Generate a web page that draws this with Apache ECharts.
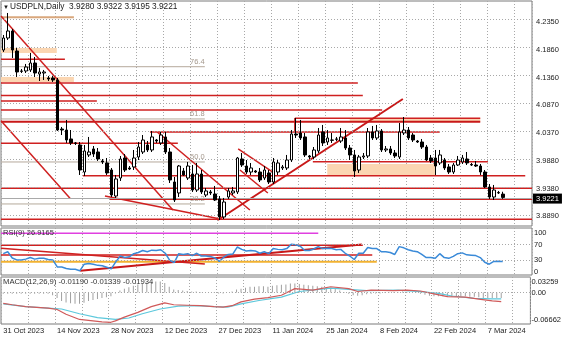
<!DOCTYPE html>
<html><head><meta charset="utf-8">
<script src="https://cdn.jsdelivr.net/npm/echarts@6/dist/echarts.min.js"></script>
<style>html,body{margin:0;padding:0;background:#fff}#c{width:564px;height:338px}</style>
</head><body><div id="c"></div>
<script>
// ---------- data ----------
const tickDates = ['31 Oct 2023','14 Nov 2023','28 Nov 2023','12 Dec 2023','27 Dec 2023','11 Jan 2024','25 Jan 2024','8 Feb 2024','22 Feb 2024','7 Mar 2024'];
const barsPerTick = 12;
const slotCount = 118;
const priceTicks = [4.2350,4.1860,4.1360,4.0870,4.0370,3.9880,3.9380,3.8890];
const rsiTicks = [100,70,30,0];
const rsiLevels = [70,30];
const macdTicks = [0.03259,0,-0.06662];
const lastPrice = 3.9221;
// [open, close, low, high]
const candles = [
[4.1850,4.2064,4.1815,4.2118],[4.2064,4.2189,4.2029,4.2510],[4.2189,4.1850,4.1708,4.2225],[4.1832,4.1458,4.1369,4.1886],
[4.1476,4.1470,4.1440,4.1511],[4.1476,4.1547,4.1440,4.1601],[4.1494,4.1618,4.1458,4.1797],[4.1618,4.1440,4.1369,4.1725],
[4.1422,4.1458,4.1297,4.1529],[4.1440,4.1458,4.1315,4.1494],[4.1351,4.1333,4.1297,4.1387],[4.1351,4.1315,4.1280,4.1387],
[4.1315,4.0423,4.0406,4.1351],[4.0441,4.0423,4.0334,4.0477],[4.0423,4.0245,4.0192,4.0602],[4.0263,4.0192,4.0156,4.0423],
[4.0192,4.0186,4.0156,4.0209],[4.0156,3.9710,3.9621,4.0209],[3.9674,4.0049,3.9603,4.0156],[3.9978,4.0031,3.9942,4.0299],
[4.0085,3.9995,3.9942,4.0138],[4.0031,3.9906,3.9871,4.0102],[3.9871,3.9853,3.9817,3.9906],[3.9835,3.9657,3.9621,3.9924],
[3.9710,3.9264,3.9228,3.9746],[3.9246,3.9550,3.9211,3.9621],[3.9567,3.9906,3.9514,3.9960],[3.9924,3.9710,3.9674,3.9995],
[3.9746,3.9728,3.9710,3.9781],[3.9764,3.9924,3.9710,4.0067],[3.9942,4.0120,3.9888,4.0209],[4.0031,4.0245,3.9995,4.0334],
[4.0156,4.0067,4.0031,4.0227],[4.0067,4.0299,4.0031,4.0406],[4.0245,4.0227,4.0192,4.0263],[4.0192,4.0334,4.0156,4.0388],
[4.0299,4.0031,3.9995,4.0388],[4.0031,3.9532,3.9478,4.0102],[3.9496,3.9175,3.9139,3.9585],[3.9300,3.9781,3.9228,3.9799],
[3.9692,3.9621,3.9603,3.9746],[3.9567,3.9781,3.9532,3.9853],[3.9639,3.9353,3.9318,3.9799],[3.9353,3.9639,3.9318,3.9835],
[3.9639,3.9318,3.9282,3.9710],[3.9264,3.9336,3.9228,3.9389],[3.9318,3.9300,3.9264,3.9353],[3.9282,3.9175,3.9157,3.9425],
[3.9193,3.8872,3.8818,3.9246],[3.8872,3.9139,3.8836,3.9211],[3.9228,3.9336,3.9193,3.9389],[3.9300,3.9336,3.9264,3.9407],
[3.9318,3.9924,3.9282,3.9942],[3.9906,3.9799,3.9764,4.0013],[3.9781,3.9674,3.9639,3.9888],[3.9674,3.9746,3.9621,3.9835],
[3.9692,3.9674,3.9657,3.9710],[3.9674,3.9532,3.9496,3.9746],[3.9567,3.9710,3.9532,3.9781],[3.9657,3.9496,3.9460,3.9710],
[3.9496,3.9853,3.9460,3.9924],[3.9674,3.9835,3.9621,3.9888],[3.9746,3.9764,3.9710,3.9799],[3.9746,3.9888,3.9710,3.9978],
[3.9888,4.0352,3.9853,4.0423],[4.0352,4.0334,4.0281,4.0637],[4.0370,4.0281,4.0245,4.0602],[4.0299,3.9978,3.9942,4.0370],
[3.9960,3.9942,3.9906,3.9978],[3.9942,4.0067,3.9906,4.0120],[4.0049,4.0334,4.0013,4.0459],[4.0388,4.0192,4.0138,4.0513],
[4.0209,4.0281,4.0156,4.0423],[4.0245,4.0240,4.0192,4.0370],[4.0263,4.0258,4.0227,4.0299],[4.0227,4.0299,4.0192,4.0459],
[4.0281,4.0102,4.0067,4.0423],[4.0102,3.9978,3.9888,4.0156],[3.9978,3.9692,3.9585,4.0067],[3.9710,3.9942,3.9657,3.9978],
[3.9942,3.9960,3.9906,4.0013],[3.9960,4.0388,3.9924,4.0459],[4.0388,4.0281,4.0245,4.0495],[4.0281,4.0406,4.0245,4.0513],
[4.0406,4.0067,4.0031,4.0441],[4.0067,4.0085,4.0031,4.0138],[4.0085,4.0013,3.9978,4.0138],[4.0013,3.9960,3.9924,4.0067],
[3.9942,4.0388,3.9906,4.0548],[4.0370,4.0423,4.0334,4.0655],[4.0423,4.0281,4.0245,4.0477],[4.0334,4.0245,4.0209,4.0370],
[4.0227,4.0209,4.0192,4.0245],[4.0209,4.0120,4.0085,4.0263],[4.0120,3.9888,3.9871,4.0156],[3.9924,3.9871,3.9835,3.9978],
[3.9924,3.9781,3.9621,4.0067],[3.9835,3.9978,3.9799,4.0067],[3.9888,3.9746,3.9710,3.9924],[3.9764,3.9674,3.9639,3.9817],
[3.9674,3.9799,3.9639,3.9835],[3.9799,3.9888,3.9781,3.9960],[3.9853,3.9924,3.9817,3.9978],[3.9906,3.9835,3.9799,4.0031],
[3.9808,3.9799,3.9781,3.9835],[3.9799,3.9781,3.9764,3.9871],[3.9781,3.9674,3.9621,3.9817],[3.9674,3.9407,3.9389,3.9710],
[3.9407,3.9228,3.9193,3.9460],[3.9228,3.9353,3.9175,3.9443],[3.9300,3.9309,3.9282,3.9336],[3.9280,3.9221,3.9195,3.9322]
];
const rsi = [[0,47],[1,52],[2,36],[3,31],[4,31],[5,33],[6,37],[7,33],[8,35],[9,35],[10,32],[11,31],[12,13],[13,13],[14,9],[15,7],[16,7],[17,3],[18,20],[19,22],[20,20],[21,17],[22,16],[23,12],[24,8],[25,26],[26,41],[27,37],[28,39],[29,47],[30,50],[31,55],[32,52],[33,56],[34,55],[35,57],[36,48],[37,30],[38,24],[39,47],[40,45],[41,47],[42,42],[43,48],[44,41],[45,41],[46,40],[47,36],[48,27],[49,38],[50,45],[51,46],[52,64],[53,58],[54,54],[55,55],[56,54],[57,48],[58,52],[59,47],[60,60],[61,58],[62,57],[63,60],[64,71],[65,70],[66,66],[67,55],[68,55],[69,59],[70,65],[71,60],[72,61],[73,60],[74,57],[75,58],[76,48],[77,41],[78,32],[79,48],[80,48],[81,63],[82,60],[83,60],[84,52],[85,52],[86,50],[87,45],[88,65],[89,62],[90,57],[91,54],[92,52],[93,45],[94,37],[95,37],[96,35],[97,47],[98,37],[99,35],[100,40],[101,47],[102,49],[103,44],[104,43],[105,42],[106,37],[107,25],[108,20],[109,27],[110,27.5],[111,26.9]];
const macdRed = [[0,-0.023],[2,-0.026],[5,-0.030],[10,-0.033],[12,-0.036],[14,-0.046],[17,-0.057],[20,-0.060],[22,-0.062],[24,-0.063],[25,-0.060],[27,-0.052],[30,-0.042],[33,-0.030],[36,-0.022],[38,-0.026],[41,-0.027],[44,-0.028],[47,-0.030],[49,-0.031],[51,-0.028],[53,-0.020],[56,-0.014],[59,-0.011],[62,-0.006],[65,0.008],[69,0.005],[73,0.012],[77,0.008],[79,0.002],[82,0.005],[87,0.004],[90,0.005],[93,0.003],[96,-0.003],[99,-0.009],[103,-0.010],[106,-0.014],[109,-0.018],[111,-0.01934]];
const macdCyan = [[0,-0.024],[5,-0.030],[10,-0.033],[13,-0.035],[17,-0.045],[21,-0.053],[25,-0.057],[28,-0.054],[31,-0.045],[35,-0.035],[39,-0.029],[43,-0.028],[47,-0.030],[50,-0.031],[53,-0.024],[57,-0.017],[62,-0.010],[66,0.002],[73,0.009],[77,0.0065],[81,0.004],[88,0.005],[93,0.0017],[97,-0.002],[100,-0.0075],[105,-0.0124],[109,-0.0134],[111,-0.01339]];
const macdHist = [-0.003,-0.003,-0.003,-0.003,-0.003,-0.003,-0.003,-0.003,-0.003,-0.003,-0.003,
-0.006,-0.012,-0.018,-0.021,-0.023,-0.024,-0.024,-0.022,-0.018,-0.016,
-0.014,-0.012,-0.010,-0.008,-0.002,0.004,0.008,0.011,0.014,0.017,
0.020,0.021,0.022,0.023,0.023,0.020,0.012,0.006,0.005,0.004,
0.003,0.002,0.002,0.001,0.000,0.000,-0.001,-0.002,-0.002,0.000,
0.002,0.006,0.008,0.010,0.012,0.012,0.013,0.013,0.012,0.014,
0.015,0.016,0.017,0.019,0.019,0.018,0.016,0.015,0.014,0.013,
0.012,0.011,0.009,0.007,0.004,0.001,-0.003,-0.006,-0.007,-0.006,
-0.004,-0.003,-0.002,-0.002,-0.001,-0.001,-0.001,0.001,0.002,0.001,
0.000,-0.001,-0.003,-0.005,-0.007,-0.008,-0.008,-0.008,-0.009,-0.009,
-0.009,-0.008,-0.008,-0.009,-0.009,-0.010,-0.012,-0.012,-0.012,-0.012,
-0.0119];
// horizontal objects: [price, fromBar, toBar, kind]
const hLines = [
[4.2433,-0.5,15.7,'tan'],[4.1684,-0.5,13.7,'red'],[4.1262,-0.5,78.8,'red'],[4.1039,-0.5,79.9,'red'],
[4.0941,-0.5,20.8,'red'],[4.0780,-0.5,84.2,'red'],[4.0572,-0.5,106,'red2'],[4.0632,64.8,106,'red'],
[4.0388,32.6,97,'red'],[4.0186,-0.5,38.8,'red'],[3.9858,68.8,107.7,'red'],[3.9608,17.7,116,'red'],
[3.9384,-0.5,117.5,'red'],[3.9188,23.7,117.5,'red'],[3.8831,-0.5,117.5,'red']
];
// trend lines: [bar1, price1, bar2, price2, kind]
const trendLines = [
[-0.5,4.2458,37.7,3.8997,'red'],[-0.5,4.0586,14.83,3.9205,'red'],[34.2,4.0388,54.8,3.8997,'red'],
[22.6,3.9246,47.7,3.8845,'red'],[47.7,3.8818,88.8,4.0976,'red2'],[52.2,4.0085,59.9,3.9674,'red'],
[52.6,3.9710,58.8,3.9300,'red'],[64.8,4.0637,64.8,4.0406,'red']
];
// shaded zones: [priceTop, priceBottom, fromBar, toBar]
const bands = [[4.1886,4.1797,-0.5,11.9],[4.1369,4.1280,-0.5,15.7],[4.0632,4.0572,77,106],[3.9817,3.9621,72,96]];
// fibonacci levels: [label, price]
const fibs = [['76.4',4.1552],['61.8',4.0620],['50.0',3.9853],['38.2',3.9104]];
const fibSpan = [-0.5,44.8];
const fibLabelBar = 41.5;
// RSI window objects
const rsiHLines = [[99.2,-0.5,70,'mag'],[68.5,-0.5,79.9,'red'],[43.6,-0.5,82,'red'],[26.4,-0.5,83,'orange']];
const rsiTrend = [[-0.5,61,44.8,20.5,'red'],[17.1,3.3,79.7,70.5,'red2']];

// ---------- styles ----------
const FONT = 'Liberation Sans, Arial, sans-serif';
const TXT = {fontFamily: FONT, fontSize: 7.5, color: '#1a1a1a'};
const kinds = {
  red:{color:'#cf2020',width:1.5}, red2:{color:'#c81818',width:2},
  tan:{color:'#d9a77c',width:2}, fib:{color:'#b5a99b',width:1},
  mag:{color:'#e040e0',width:1.5}, orange:{color:'#f2b230',width:2}
};
const gridDot = {type:[1,2], color:'#a8a8a8', width:1};
const cats = Array.from({length: slotCount}, (_, i) => String(i));

function seg(xi, yi, pts, kind, z) {
  return {type:'line', xAxisIndex:xi, yAxisIndex:yi, data:pts, symbol:'none', silent:true,
    animation:false, z:z||3, lineStyle:{color:kinds[kind].color, width:kinds[kind].width}};
}
function catAxis(g, labels) {
  return {type:'category', gridIndex:g, data:cats, boundaryGap:true,
    axisLine:{show:false}, axisTick:{show:false},
    axisLabel: labels ? Object.assign({show:true, align:'left', margin:3,
        interval:(i)=> i % barsPerTick === 0 && i / barsPerTick < tickDates.length,
        formatter:(v, i)=> tickDates[i / barsPerTick] || ''}, TXT) : {show:false},
    splitLine:{show:true, interval:5, lineStyle:gridDot}};
}
function valAxis(g) { return {type:'value', gridIndex:g, min:-0.5, max:slotCount-0.5, show:false}; }
const gridBox = {show:true, borderColor:'#7a7a7a', borderWidth:1, left:1, width:531};
function label(text, left, top, extra) {
  return {text:text, left:left, top:top, padding:0, textStyle:Object.assign({}, TXT, {fontWeight:'normal'}, extra||{})};
}

const series = [];
series.push({type:'candlestick', xAxisIndex:0, yAxisIndex:0, data:candles, barWidth:3, z:6, animation:false,
  itemStyle:{color:'#ffffff', color0:'#000000', borderColor:'#000000', borderColor0:'#000000', borderWidth:1},
  markLine:{silent:true, symbol:['none','none'], animation:false, label:{show:false}, lineStyle:gridDot,
    data: priceTicks.map(v=>({yAxis:v})).concat([{yAxis:lastPrice, lineStyle:{type:'solid', color:'#a9a9a9', width:1},
      label:Object.assign({show:true, position:'end', distance:1, formatter:lastPrice.toFixed(4),
        backgroundColor:'#000', padding:[1,3,1,3]}, TXT, {color:'#fff'})}])}
});
series.push({type:'line', xAxisIndex:1, yAxisIndex:0, data:[], silent:true, z:1,
  markArea:{silent:true, animation:false, itemStyle:{color:'#fbd6b2'},
    data: bands.map(b=>[{coord:[b[2],b[0]]},{coord:[b[3],b[1]]}])}});
fibs.forEach(f=> series.push(seg(1,0,[[fibSpan[0],f[1]],[fibSpan[1],f[1]]],'fib',2)));
hLines.forEach(h=> series.push(seg(1,0,[[h[1],h[0]],[h[2],h[0]]],h[3],3)));
trendLines.forEach(t=> series.push(seg(1,0,[[t[0],t[1]],[t[2],t[3]]],t[4],3)));
series.push({type:'scatter', xAxisIndex:1, yAxisIndex:0, symbolSize:0, silent:true, z:4, animation:false,
  data: fibs.map(f=>[fibLabelBar, f[1], f[0]]),
  label:Object.assign({show:true, position:'right', distance:0, offset:[0,-5], formatter:p=>p.value[2]}, TXT, {color:'#8f8070'})});
// RSI window
series.push({type:'line', xAxisIndex:3, yAxisIndex:1, data:rsi, symbol:'none', z:4, animation:false,
  lineStyle:{color:'#3a8ad8', width:1.5},
  markLine:{silent:true, symbol:['none','none'], animation:false, label:{show:false}, lineStyle:gridDot,
    data: rsiLevels.map(v=>({yAxis:v}))}});
rsiHLines.forEach(h=> series.push(seg(3,1,[[h[1],h[0]],[h[2],h[0]]],h[3],3)));
rsiTrend.forEach(t=> series.push(seg(3,1,[[t[0],t[1]],[t[2],t[3]]],t[4],3)));
// MACD window
series.push({type:'bar', xAxisIndex:4, yAxisIndex:2, data:macdHist, barWidth:1, z:2, animation:false,
  itemStyle:{color:'#a0a0a0'},
  markLine:{silent:true, symbol:['none','none'], animation:false, label:{show:false}, lineStyle:gridDot, data:[{yAxis:0}]}});
series.push({type:'line', xAxisIndex:5, yAxisIndex:2, data:macdCyan, symbol:'none', z:3, animation:false, lineStyle:{color:'#5cc8dc', width:1.2}});
series.push({type:'line', xAxisIndex:5, yAxisIndex:2, data:macdRed, symbol:'none', z:3, animation:false, lineStyle:{color:'#d05a5a', width:1.2}});

const option = {
  animation:false,
  backgroundColor:'#ffffff',
  title:[
    label('▼', 3, 4, {fontSize:6}),
    label('USDPLN,Daily  3.9280 3.9322 3.9195 3.9221', 10, 2.5, {fontSize:8.3}),
    label('RSI(9) 26.9165', 3, 228.5, {color:'#333'}),
    label('MACD(12,26,9) -0.01190 -0.01339 -0.01934', 3, 277.8, {color:'#333', fontSize:7.7})
  ],
  grid:[
    Object.assign({top:1, height:225}, gridBox),
    Object.assign({top:228, height:47}, gridBox),
    Object.assign({top:277, height:47}, gridBox)
  ],
  xAxis:[catAxis(0,false), valAxis(0), catAxis(1,false), valAxis(1), catAxis(2,true), valAxis(2)],
  yAxis:[
    {type:'value', gridIndex:0, position:'right', min:3.8711, max:4.2724, axisLine:{show:false}, axisTick:{show:false}, splitLine:{show:false},
      axisLabel:Object.assign({customValues:priceTicks, formatter:v=>v.toFixed(4), margin:4}, TXT)},
    {type:'value', gridIndex:1, position:'right', min:-7.7, max:112.8, axisLine:{show:false}, axisTick:{show:false}, splitLine:{show:false},
      axisLabel:Object.assign({customValues:rsiTicks, formatter:v=>String(v), margin:2}, TXT)},
    {type:'value', gridIndex:2, position:'right', min:macdTicks[2], max:macdTicks[0], axisLine:{show:false}, axisTick:{show:false}, splitLine:{show:false},
      axisLabel:Object.assign({customValues:macdTicks, margin:1,
        formatter:v=> v > 0 ? '{t|' + v.toFixed(5) + '}' : (v < 0 ? '{b|' + v.toFixed(5) + '}' : '0.00'),
        rich:{t:Object.assign({padding:[10,0,0,0]}, TXT), b:Object.assign({padding:[0,0,8,0]}, TXT)}}, TXT)}
  ],
  series: series
};
const chart = echarts.init(document.getElementById('c'), null, {renderer:'canvas', width:564, height:338});
chart.setOption(option);
</script></body></html>
